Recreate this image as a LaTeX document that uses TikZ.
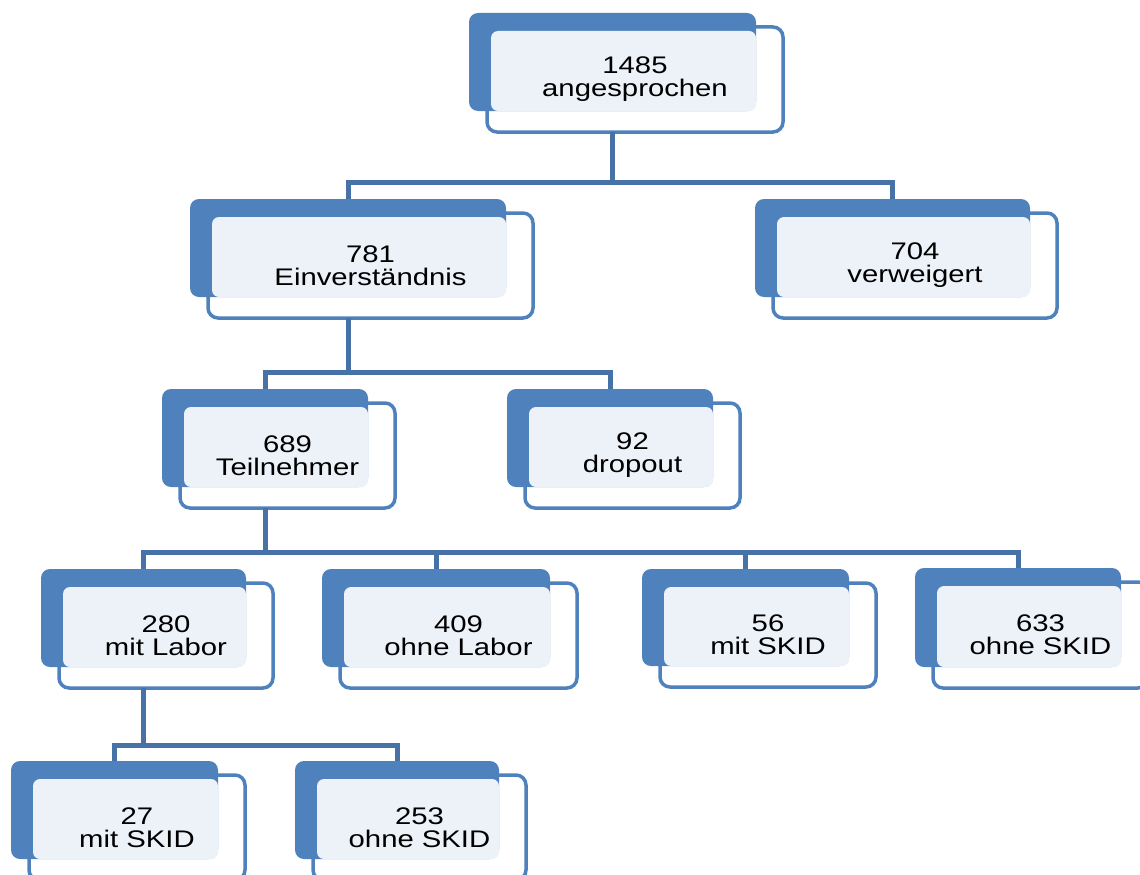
\documentclass[tikz,border=0pt]{standalone}
\usepackage{fontspec}
\newfontfamily\boxfont{Liberation Sans}[FakeStretch=1.22]
\definecolor{darkfill}{HTML}{4F81BD}
\definecolor{lightfill}{HTML}{EDF1F8}
\definecolor{linecol}{HTML}{4672A8}
\tikzset{
  whitebox/.style={draw=darkfill, line width=3.5pt, fill=white, rounded corners=10pt,
    anchor=north west, inner sep=0pt, outer sep=0pt},
  darkbox/.style={fill=darkfill, rounded corners=9pt, anchor=north west,
    inner sep=0pt, outer sep=0pt},
  lightbox/.style={fill=lightfill, rounded corners=7pt, anchor=north west,
    inner sep=0pt, outer sep=0pt},
  boxlabel/.style={font=\boxfont\fontsize{24}{23}\selectfont, align=center,
    inner sep=0pt, text=black},
  conn/.style={draw=linecol, line width=5pt}
}
\newcommand\orgbox[6]{%
  \node[whitebox, minimum width=#4pt, minimum height=#5pt] (n#1) at (#2,#3) {};
  \node[darkbox, minimum width={#4pt-9pt}, minimum height={#5pt-7pt}] (d#1) at (#2-18,#3-14) {};
  \node[lightbox, minimum width={#4pt-31pt}, minimum height={#5pt-25pt}] (l#1) at (#2+4,#3+4) {};
  \node[boxlabel] (t#1) at (n#1.center) {#6};
}
\begin{document}
\begin{tikzpicture}[x=1pt, y=-1pt]
\path[use as bounding box, clip] (0,0) rectangle (1140,875);
\orgbox{a}{487}{27}{296}{105}{1485\\angesprochen}
\orgbox{b}{208}{213}{325}{105}{781\\Einverständnis}
\orgbox{c}{773}{213}{284}{105}{704\\verweigert}
\orgbox{d}{180}{403}{215}{105}{689\\Teilnehmer}
\orgbox{e}{525}{403}{215}{105}{92\\dropout}
\orgbox{f}{59}{583}{214}{105}{280\\mit Labor}
\orgbox{g}{340}{583}{237}{105}{409\\ohne Labor}
\orgbox{h}{660}{583}{216}{104}{56\\mit SKID}
\orgbox{i}{933}{582}{215}{106}{633\\ohne SKID}
\orgbox{j}{29}{775}{216}{105}{27\\mit SKID}
\orgbox{k}{313}{775}{213}{105}{253\\ohne SKID}
\coordinate (b1) at (0,182);
\coordinate (b2) at (0,372);
\coordinate (b3) at (0,552);
\coordinate (b4) at (0,745);
% level 1
\draw[conn] (da.south |- na.south) -- (da.south |- b1);
\draw[conn] (db.north) |- (dc.north |- b1) -- (dc.north);
% level 2
\draw[conn] (db.south |- nb.south) -- (db.south |- b2);
\draw[conn] (dd.north) |- (de.north |- b2) -- (de.north);
% level 3
\draw[conn] (dd.south |- nd.south) -- (dd.south |- b3);
\draw[conn] (df.north) |- (di.north |- b3) -- (di.north);
\draw[conn] (dg.north) -- (dg.north |- b3);
\draw[conn] (dh.north) -- (dh.north |- b3);
% level 4
\draw[conn] (df.south |- nf.south) -- (df.south |- b4);
\draw[conn] (dj.north) |- (dk.north |- b4) -- (dk.north);
\end{tikzpicture}
\end{document}
